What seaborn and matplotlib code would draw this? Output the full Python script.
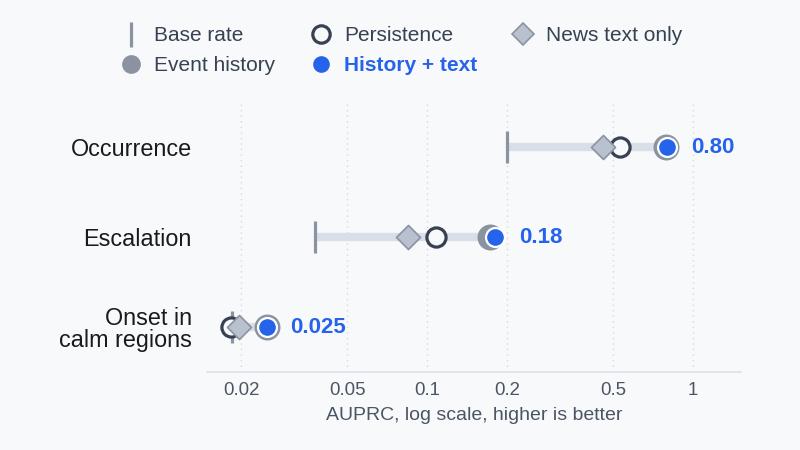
import matplotlib
matplotlib.use("Agg")
import matplotlib.pyplot as plt
from matplotlib.lines import Line2D
import seaborn as sns
import pandas as pd

categories = ["Occurrence", "Escalation", "Onset in\ncalm regions"]
base_rate = [0.20, 0.038, 0.0185]
persistence = [0.53, 0.108, 0.0183]
news_text = [0.46, 0.085, 0.0197]
event_history = [0.79, 0.172, 0.025]
history_text = [0.80, 0.18, 0.025]
value_labels = ["0.80", "0.18", "0.025"]
x_ticks = [0.02, 0.05, 0.1, 0.2, 0.5, 1]
x_tick_labels = ["0.02", "0.05", "0.1", "0.2", "0.5", "1"]

BG = "#f8f9fb"
GRAY = "#8b93a3"
BAR = "#d9dee7"
DIAM_F = "#b9c1ce"
DARK = "#374151"
BLUE = "#2563eb"

sns.set_theme(style="white")
plt.rcParams["font.family"] = ["Liberation Sans", "DejaVu Sans"]

df = pd.DataFrame({
    "task": categories,
    "base": base_rate,
    "persist": persistence,
    "news": news_text,
    "hist": event_history,
    "both": history_text,
})
df["top"] = df[["hist", "both"]].max(axis=1)

fig = plt.figure(figsize=(8, 4.5), dpi=100, facecolor=BG)
ax = fig.add_axes([0.259, 0.1733, 0.667, 0.60])
ax.set_facecolor(BG)

# connecting bar
ax.hlines(y=df["task"], xmin=df["base"], xmax=df["top"], color=BAR, lw=6, zorder=1)

sns.scatterplot(data=df, x="base", y="task", marker="|", s=560, color=GRAY,
                linewidth=2.3, ax=ax, zorder=2, legend=False)
sns.scatterplot(data=df, x="persist", y="task", marker="o", s=190, color=BG,
                edgecolor=DARK, linewidth=2.3, ax=ax, zorder=3, legend=False)
sns.scatterplot(data=df, x="news", y="task", marker="D", s=150, color=DIAM_F,
                edgecolor=GRAY, linewidth=1.2, ax=ax, zorder=4, legend=False)
sns.scatterplot(data=df, x="hist", y="task", marker="o", s=350, color=GRAY,
                edgecolor=GRAY, linewidth=0, ax=ax, zorder=5, legend=False)
sns.scatterplot(data=df, x="both", y="task", marker="o", s=185, color=BLUE,
                edgecolor="white", linewidth=1.6, ax=ax, zorder=6, legend=False)

for t, v, lab in zip(df["task"], df["top"], value_labels):
    ax.annotate(lab, xy=(v, t), xytext=(17, 0), textcoords="offset points",
                ha="left", va="center", fontsize=16, fontweight="bold",
                color=BLUE, zorder=7)

ax.set_xscale("log")
ax.set_xlim(0.0149, 1.51)
ax.set_ylim(2.5, -0.5)
ax.set_xticks(x_ticks)
ax.set_xticklabels(x_tick_labels)
ax.minorticks_off()
ax.xaxis.set_minor_locator(matplotlib.ticker.NullLocator())
ax.tick_params(axis="x", length=0, pad=7, labelsize=13.4, labelcolor="#4b5563")
ax.tick_params(axis="y", length=0, pad=11, labelsize=16.8, labelcolor="#1a1a1a")
for lab in ax.get_yticklabels():
    lab.set_linespacing(0.95)
ax.grid(axis="x", color="#d5d9e0", linestyle=(0, (1, 3)), lw=1.0, zorder=0)
ax.grid(axis="y", visible=False)
for s in ["top", "right", "left"]:
    ax.spines[s].set_visible(False)
ax.spines["bottom"].set_color("#dde1e8")
ax.spines["bottom"].set_linewidth(1.2)
ax.set_xlabel("AUPRC, log scale, higher is better", fontsize=14, color="#4b5563", labelpad=6)
ax.set_ylabel("")

handles = [
    Line2D([], [], linestyle="none", marker="|", markersize=18, mew=2.3, color=GRAY),
    Line2D([], [], linestyle="none", marker="o", markersize=13.5, color=GRAY, mew=0),
    Line2D([], [], linestyle="none", marker="o", markersize=12.5, markerfacecolor=BG,
           markeredgecolor=DARK, mew=2.3),
    Line2D([], [], linestyle="none", marker="o", markersize=12, color=BLUE, mew=0),
    Line2D([], [], linestyle="none", marker="D", markersize=11, markerfacecolor=DIAM_F,
           markeredgecolor=GRAY, mew=1.2),
]
labels = ["Base rate", "Event history", "Persistence", "History + text", "News text only"]
leg = fig.legend(handles, labels, ncol=3, loc="upper left",
                 bbox_to_anchor=(0.145, 0.951), frameon=False, fontsize=15,
                 handlelength=1.0, handletextpad=0.6, columnspacing=1.72,
                 labelspacing=0.52, borderaxespad=0, borderpad=0.2,
                 labelcolor="#374151")
for txt in leg.get_texts():
    if txt.get_text() == "History + text":
        txt.set_color(BLUE)
        txt.set_fontweight("bold")

fig.savefig("out.png", dpi=100, facecolor=BG)
